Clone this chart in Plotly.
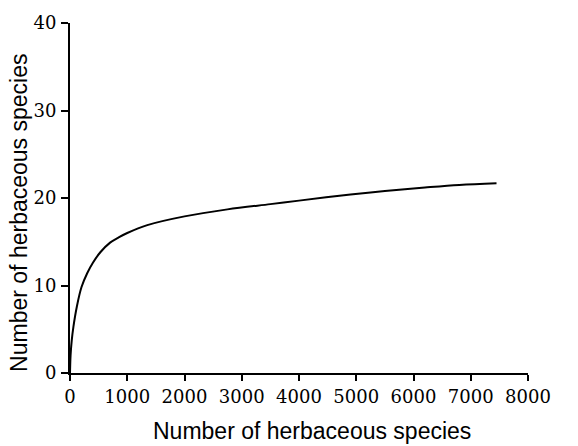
import plotly.graph_objects as go

# Data
samples = [0, 10, 30, 60, 120, 200, 300, 400, 530, 700, 850, 1000, 1350, 2000,
           2750, 3500, 4000, 4900, 5500, 6200, 6800, 7450]
species = [0, 2.0, 3.7, 5.3, 7.6, 9.8, 11.4, 12.6, 13.8, 14.9, 15.5, 16.0, 16.9,
           17.9, 18.7, 19.3, 19.7, 20.4, 20.8, 21.2, 21.5, 21.7]

x_ticks = [0, 1000, 2000, 3000, 4000, 5000, 6000, 7000, 8000]
y_ticks = [0, 10, 20, 30, 40]
x_title = "Number of herbaceous species"
y_title = "Number of herbaceous species"

fig = go.Figure()
fig.add_trace(go.Scatter(
    x=samples, y=species, mode="lines",
    line=dict(color="black", width=2, shape="spline", smoothing=1.0),
    showlegend=False, hoverinfo="skip",
))

tick_font = dict(family="DejaVu Serif, Liberation Serif, serif", size=18, color="black")
title_font = dict(family="Liberation Sans, Arial, sans-serif", size=23, color="black")

fig.update_layout(
    width=578, height=446,
    margin=dict(l=70, r=50, t=12, b=73),
    paper_bgcolor="white", plot_bgcolor="white",
    xaxis=dict(
        range=[0, 8000], tickvals=x_ticks, ticktext=[str(v) for v in x_ticks],
        showgrid=False, zeroline=False, showline=True, linecolor="black", linewidth=2,
        ticks="outside", ticklen=6, tickwidth=1.5, tickcolor="black",
        tickfont=tick_font,
    ),
    yaxis=dict(
        range=[0, 40], tickvals=y_ticks, ticktext=[str(v) for v in y_ticks],
        showgrid=False, zeroline=False, showline=True, linecolor="black", linewidth=2,
        ticks="outside", ticklen=7, tickwidth=1.5, tickcolor="black",
        tickfont=tick_font, ticklabelstandoff=1,
    ),
    annotations=[
        dict(text=y_title, textangle=-90, showarrow=False,
             xref="paper", yref="y", x=0, xshift=-51, y=18.3,
             xanchor="center", yanchor="middle", font=title_font),
        dict(text=x_title, showarrow=False,
             xref="x", yref="paper", x=4220, y=0, yshift=-58,
             xanchor="center", yanchor="middle", font=title_font),
    ],
)

fig.write_html("out.html")
